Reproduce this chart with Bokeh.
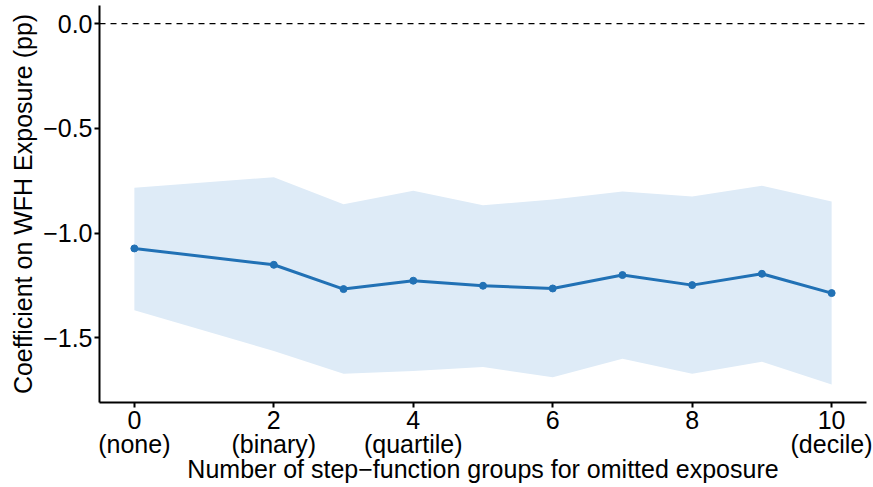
from bokeh.plotting import figure
from bokeh.models import ColumnDataSource, Span, FixedTicker, Range1d, LinearAxis
from bokeh.embed import file_html
from bokeh.resources import INLINE

# Data
groups = [0, 2, 3, 4, 5, 6, 7, 8, 9, 10]
coef = [-1.073, -1.151, -1.267, -1.227, -1.251, -1.264, -1.200, -1.248, -1.194, -1.286]
upper = [-0.784, -0.733, -0.862, -0.798, -0.867, -0.840, -0.801, -0.825, -0.774, -0.849]
lower = [-1.368, -1.562, -1.671, -1.658, -1.639, -1.687, -1.599, -1.671, -1.613, -1.722]

x_ticks = [0, 2, 4, 6, 8, 10]
x_tick_numbers = ["0", "2", "4", "6", "8", "10"]
x_tick_words = ["(none)", "(binary)", "(quartile)", "", "", "(decile)"]
y_ticks = [0.0, -0.5, -1.0, -1.5]
y_tick_labels = ["0.0", "\u22120.5", "\u22121.0", "\u22121.5"]
x_title = "Number of step\u2212function groups for omitted exposure"
y_title = "Coefficient on WFH Exposure (pp)"

FONT = "Liberation Sans"
FS = "25px"
LINE_COLOR = "#2171B5"
BAND_COLOR = "#DEEBF7"
X0, X1 = -0.5, 10.5
Y0, Y1 = -1.808, 0.086

src = ColumnDataSource(dict(x=groups, y=coef, lo=lower, hi=upper))

p = figure(width=872, height=486, output_backend="svg", toolbar_location=None,
           x_range=Range1d(X0, X1), y_range=Range1d(Y0, Y1),
           min_border_left=99, min_border_right=6, min_border_top=5, min_border_bottom=84)

p.varea(x="x", y1="lo", y2="hi", source=src, fill_color=BAND_COLOR, fill_alpha=1.0)
p.add_layout(Span(location=0, dimension="width", line_color="black",
                  line_dash="6 5", line_width=1.3))
p.line(x="x", y="y", source=src, line_color=LINE_COLOR, line_width=3)
p.scatter(x="x", y="y", source=src, size=7, fill_color=LINE_COLOR, line_color=LINE_COLOR)

p.outline_line_color = None
p.xgrid.grid_line_color = None
p.ygrid.grid_line_color = None
p.background_fill_color = "white"
p.border_fill_color = "white"


def style(ax):
    ax.axis_line_color = "black"
    ax.axis_line_width = 2
    ax.major_tick_line_color = "black"
    ax.major_tick_line_width = 2
    ax.major_tick_out = 5
    ax.major_tick_in = 0
    ax.minor_tick_line_color = None
    ax.major_label_text_font = FONT
    ax.major_label_text_font_size = FS
    ax.major_label_text_color = "black"
    ax.axis_label_text_font = FONT
    ax.axis_label_text_font_size = FS
    ax.axis_label_text_font_style = "normal"
    ax.axis_label_text_color = "black"


style(p.xaxis[0])
style(p.yaxis[0])

# numbers row
p.xaxis[0].ticker = FixedTicker(ticks=x_ticks)
p.xaxis[0].major_label_overrides = dict(zip(x_ticks, x_tick_numbers))
p.xaxis[0].major_label_standoff = 3

# word row + axis title
words = LinearAxis(ticker=FixedTicker(ticks=x_ticks))
style(words)
words.axis_line_color = None
words.major_tick_line_color = None
words.major_tick_out = 0
words.major_label_overrides = dict(zip(x_ticks, x_tick_words))
words.major_label_standoff = -2
words.axis_label = x_title
words.axis_label_standoff = -6
p.add_layout(words, "below")

p.yaxis.ticker = FixedTicker(ticks=y_ticks)
p.yaxis.major_label_overrides = dict(zip(y_ticks, y_tick_labels))
p.yaxis.major_label_standoff = 2
p.yaxis.axis_label = y_title
p.yaxis.axis_label_standoff = 3

open("out.html", "w").write(file_html(p, INLINE))
